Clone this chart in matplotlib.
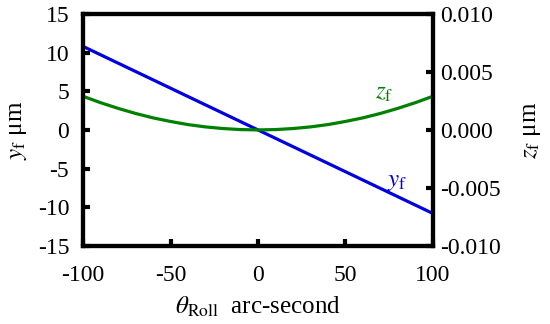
import matplotlib
matplotlib.use("Agg")
import matplotlib.pyplot as plt

plt.rcParams['font.family'] = ['Liberation Serif', 'DejaVu Serif']
plt.rcParams['mathtext.fontset'] = 'stix'

# roll angle, arc-second
theta = [-100, -90, -80, -70, -60, -50, -40, -30, -20, -10, 0,
         10, 20, 30, 40, 50, 60, 70, 80, 90, 100]
# y_f, um (left axis)
y_f = [10.8, 9.72, 8.64, 7.56, 6.48, 5.4, 4.32, 3.24, 2.16, 1.08, 0.0,
       -1.08, -2.16, -3.24, -4.32, -5.4, -6.48, -7.56, -8.64, -9.72, -10.8]
# z_f, um (right axis)
z_f = [0.0029, 0.00235, 0.00186, 0.00142, 0.00104, 0.00073, 0.00046, 0.00026, 0.00012, 0.00003, 0.0,
       0.00003, 0.00012, 0.00026, 0.00046, 0.00073, 0.00104, 0.00142, 0.00186, 0.00235, 0.0029]

xticks = [-100, -50, 0, 50, 100]
yticks = [-15, -10, -5, 0, 5, 10, 15]
zticks = [-0.010, -0.005, 0.0, 0.005, 0.010]

fig = plt.figure(figsize=(5.5, 3.24), dpi=100)
ax = fig.add_axes([0.151, 0.241, 0.636, 0.716])
ax2 = ax.twinx()

ax.plot(theta, y_f, color='#0000e0', lw=2.3, zorder=3)
ax2.plot(theta, z_f, color='#008000', lw=2.3)

ax.set_xlim(-100, 100)
ax.set_ylim(-15, 15)
ax2.set_ylim(-0.010, 0.010)
ax.set_xticks(xticks)
ax.set_yticks(yticks)
ax2.set_yticks(zticks)
ax.set_xticklabels([str(v) for v in xticks])
ax.set_yticklabels([str(v) for v in yticks])
ax2.set_yticklabels(['%.3f' % v for v in zticks])

for a in (ax, ax2):
    for s in a.spines.values():
        s.set_linewidth(3)
    a.tick_params(direction='in', length=5, width=3, labelsize=17)
ax.tick_params(axis='y', pad=10)
ax.tick_params(axis='x', pad=14)
ax2.tick_params(axis='y', pad=5)

ax.set_xlabel(r'$\theta_{\mathrm{Roll}}$  arc-second', fontsize=18, labelpad=6)
ax.set_ylabel(r'$y_{\mathrm{f}}$ μm', fontsize=18, labelpad=6)
ax2.set_ylabel(r'$z_{\mathrm{f}}$ μm', fontsize=18, labelpad=15)

ax.text(67, 4.0, r'$z_{\mathrm{f}}$', color='#008000', fontsize=18)
ax.text(74, -7.2, r'$y_{\mathrm{f}}$', color='#0000e0', fontsize=18)

fig.savefig('out.png', dpi=100)
